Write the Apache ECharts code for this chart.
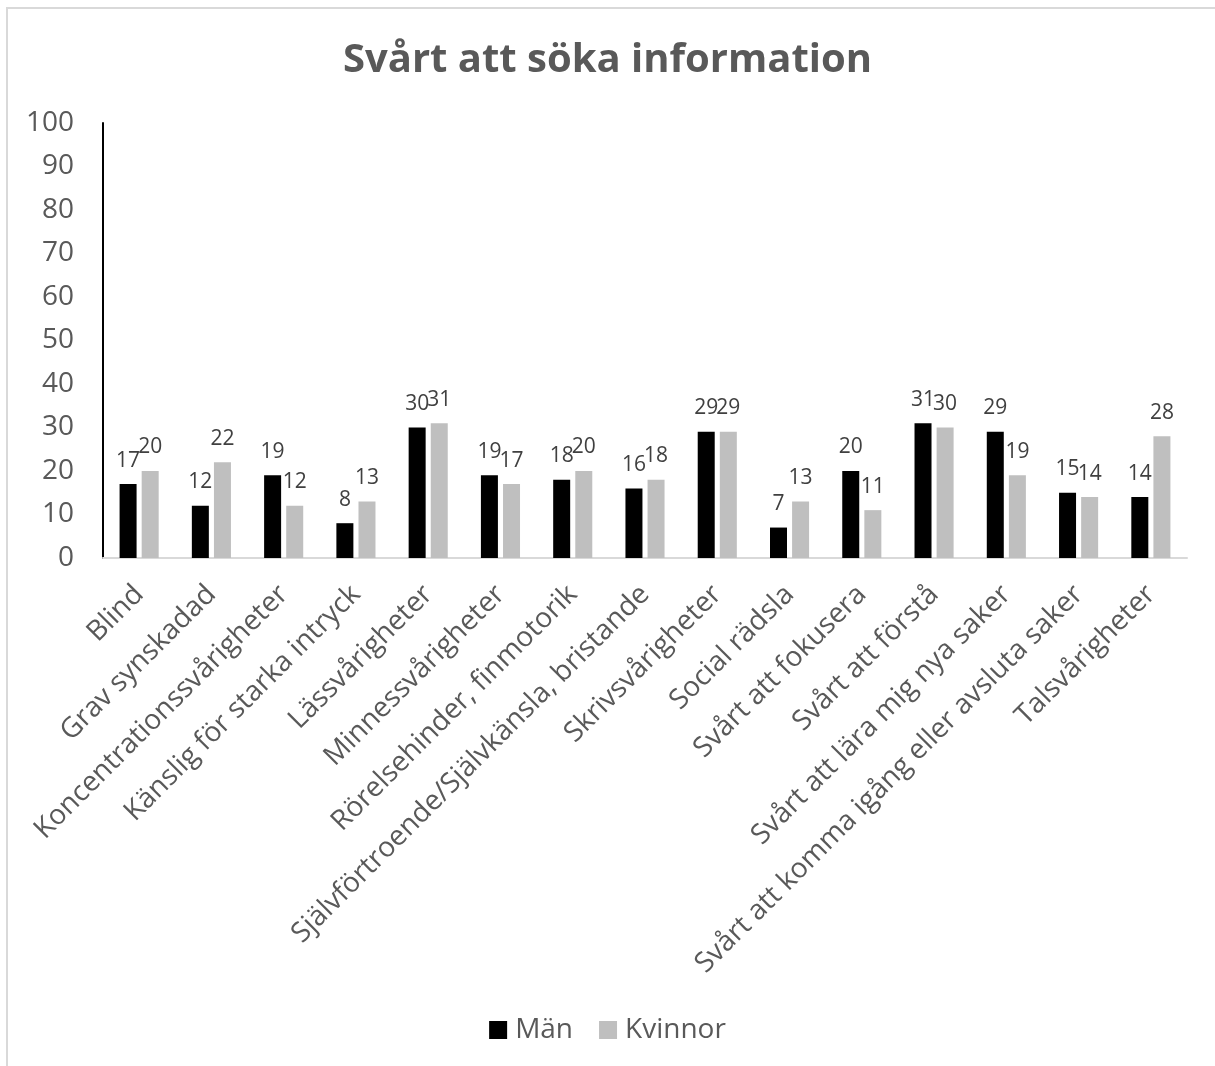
<!DOCTYPE html>
<html>
<head>
<meta charset="utf-8">
<script src="https://cdn.jsdelivr.net/npm/echarts@6/dist/echarts.min.js"></script>
<style>
  html, body { margin: 0; padding: 0; background: #fff; }
  #chart { width: 1215px; height: 1066px; }
</style>
</head>
<body>
<div id="chart"></div>
<script>
const categories = [
  'Blind',
  'Grav synskadad',
  'Koncentrationssvårigheter',
  'Känslig för starka intryck',
  'Lässvårigheter',
  'Minnessvårigheter',
  'Rörelsehinder, finmotorik',
  'Självförtroende/Självkänsla, bristande',
  'Skrivsvårigheter',
  'Social rädsla',
  'Svårt att fokusera',
  'Svårt att förstå',
  'Svårt att lära mig nya saker',
  'Svårt att komma igång eller avsluta saker',
  'Talsvårigheter'
];
const manValues = [17, 12, 19, 8, 30, 19, 18, 16, 29, 7, 20, 31, 29, 15, 14];
const kvinnorValues = [20, 22, 12, 13, 31, 17, 20, 18, 29, 13, 11, 30, 19, 14, 28];
const yTicks = { min: 0, max: 100, interval: 10 };

const FONT = '"Open Sans", "Noto Sans", sans-serif';
const chart = echarts.init(document.getElementById('chart'), null, { renderer: 'canvas' });

const labelStyle = {
  show: true,
  position: 'top',
  distance: 13,
  color: '#404040',
  fontSize: 21,
  fontFamily: FONT
};

chart.setOption({
  backgroundColor: '#ffffff',
  animation: false,
  graphic: [{
    type: 'rect',
    shape: { x: 7, y: 8, width: 1400, height: 1200 },
    style: { fill: 'none', stroke: '#d9d9d9', lineWidth: 2 },
    silent: true
  }],
  title: {
    text: 'Svårt att söka information',
    left: 'center',
    top: 36,
    textStyle: { color: '#595959', fontSize: 40, fontWeight: 'bold', fontFamily: FONT }
  },
  legend: {
    data: ['Män', 'Kvinnor'],
    left: 'center',
    top: 1011,
    icon: 'rect',
    itemWidth: 18,
    itemHeight: 18,
    itemGap: 26,
    textStyle: { color: '#595959', fontSize: 28, fontFamily: FONT, padding: [0, 0, 0, 3] }
  },
  grid: { left: 103, right: 28, top: 123, bottom: 508, containLabel: false },
  xAxis: {
    type: 'category',
    data: categories,
    axisLine: { show: true, lineStyle: { color: '#d9d9d9', width: 2 } },
    axisTick: { show: false },
    axisLabel: {
      interval: 0,
      rotate: 45,
      margin: 32,
      padding: [22, 0, 0, 0],
      color: '#595959',
      fontSize: 28,
      fontFamily: FONT
    }
  },
  yAxis: {
    type: 'value',
    min: yTicks.min,
    max: yTicks.max,
    interval: yTicks.interval,
    splitLine: { show: false },
    axisLine: { show: true, lineStyle: { color: '#000000', width: 2 } },
    axisTick: { show: false },
    axisLabel: { color: '#595959', fontSize: 28, fontFamily: FONT, margin: 29 }
  },
  series: [
    {
      name: 'Män',
      type: 'bar',
      data: manValues,
      barWidth: 17,
      barGap: '30%',
      itemStyle: { color: '#000000' },
      label: labelStyle
    },
    {
      name: 'Kvinnor',
      type: 'bar',
      data: kvinnorValues,
      barWidth: 17,
      barGap: '30%',
      itemStyle: { color: '#bfbfbf' },
      label: labelStyle
    }
  ]
});
</script>
</body>
</html>
